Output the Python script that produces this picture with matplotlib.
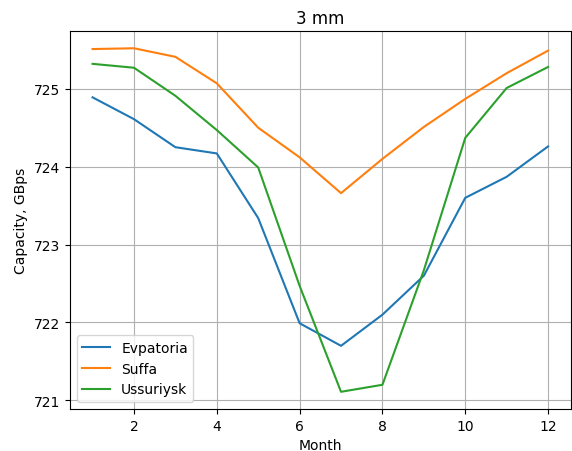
import matplotlib.pyplot as plt

months = [1, 2, 3, 4, 5, 6, 7, 8, 9, 10, 11, 12]
evpatoria = [724.89, 724.61, 724.25, 724.17, 723.34, 721.99, 721.70, 722.10, 722.60, 723.60, 723.87, 724.26]
suffa = [725.51, 725.52, 725.41, 725.07, 724.50, 724.12, 723.66, 724.10, 724.51, 724.87, 725.20, 725.49]
ussuriysk = [725.32, 725.27, 724.91, 724.47, 723.99, 722.47, 721.11, 721.20, 722.67, 724.37, 725.01, 725.28]

fig, ax = plt.subplots(figsize=(5.72, 4.52), dpi=100)
fig.subplots_adjust(left=0.122, right=0.998, top=0.929, bottom=0.093)

ax.plot(months, evpatoria, label="Evpatoria")
ax.plot(months, suffa, label="Suffa")
ax.plot(months, ussuriysk, label="Ussuriysk")

ax.set_title("3 mm")
ax.set_xlabel("Month")
ax.set_ylabel("Capacity, GBps")
ax.grid(True)
ax.legend(loc="lower left")

fig.savefig("out.png")
